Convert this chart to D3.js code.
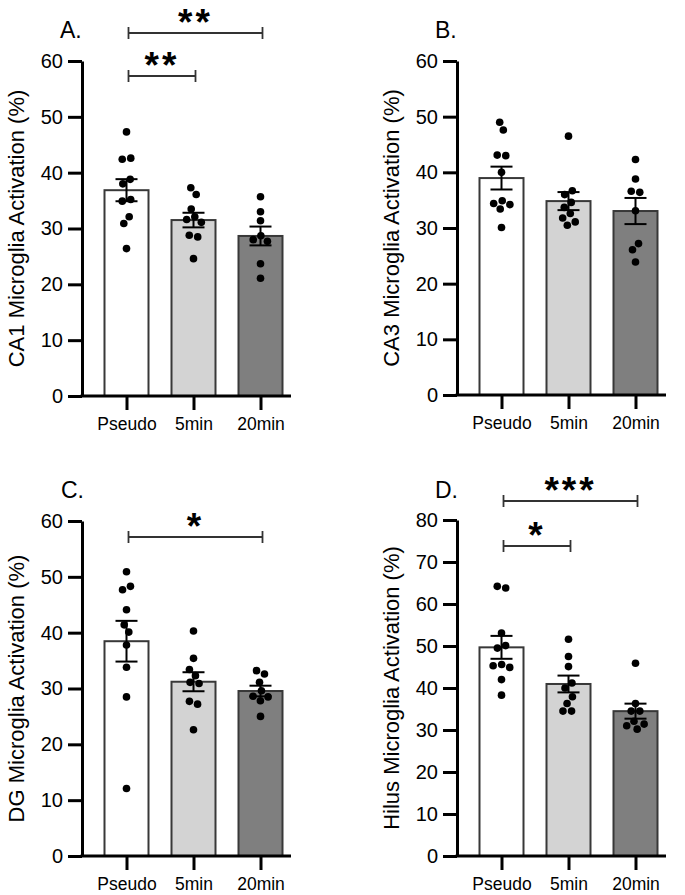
<!DOCTYPE html>
<html><head><meta charset="utf-8">
<script src="https://cdn.jsdelivr.net/npm/d3@7"></script>
<style>body{margin:0;background:#fff} text{font-family:Arial,"Liberation Sans",sans-serif;fill:#000}</style>
</head><body>
<svg id="chart" width="685" height="895"></svg>
<script>
// ---------- data ----------
const groups = ["Pseudo", "5min", "20min"];
const ticksCA = [0, 10, 20, 30, 40, 50, 60];
const ticksHilus = [0, 10, 20, 30, 40, 50, 60, 70, 80];

const ca1Pseudo = [47.3, 42.6, 42.4, 38.8, 38.0, 35.2, 34.9, 32.1, 30.9, 26.4];
const ca1Min5   = [37.3, 36.1, 33.5, 32.1, 31.6, 31.1, 28.8, 28.5, 24.6];
const ca1Min20  = [35.7, 33.0, 31.4, 28.7, 28.0, 27.7, 23.7, 21.1];

const ca3Pseudo = [49.0, 47.6, 43.1, 43.0, 40.0, 34.9, 34.4, 34.2, 33.4, 30.1];
const ca3Min5   = [46.5, 36.7, 36.0, 34.6, 33.7, 32.6, 31.8, 31.1, 30.5];
const ca3Min20  = [42.3, 38.8, 36.6, 36.4, 33.1, 27.2, 26.1, 23.9];

const dgPseudo = [50.9, 48.3, 47.7, 44.1, 41.4, 40.1, 37.8, 33.8, 28.5, 12.1];
const dgMin5   = [40.3, 35.4, 33.4, 32.3, 31.1, 30.9, 27.7, 27.2, 22.6];
const dgMin20  = [33.2, 32.6, 31.1, 29.6, 28.6, 28.5, 27.8, 25.0];

const hilusPseudo = [64.2, 63.8, 53.1, 50.1, 49.5, 45.6, 45.3, 44.9, 42.0, 38.3];
const hilusMin5   = [51.6, 47.5, 45.1, 41.2, 40.0, 37.9, 36.3, 34.5, 34.5];
const hilusMin20  = [45.9, 36.3, 34.5, 34.5, 32.1, 31.4, 31.0, 30.2];

const letters = ["A.", "B.", "C.", "D."];
const yTitles = ["CA1 Microglia Activation (%)", "CA3 Microglia Activation (%)",
                 "DG Microglia Activation (%)", "Hilus Microglia Activation (%)"];
const sigA = [{a: 0, b: 2, label: "**"}, {a: 0, b: 1, label: "**"}];
const sigB = [];
const sigC = [{a: 0, b: 2, label: "*"}];
const sigD = [{a: 0, b: 2, label: "***"}, {a: 0, b: 1, label: "*"}];

// ---------- layout ----------
const panels = [
  {x0: 82,  yTop: 61,  yBot: 396, ticks: ticksCA,    series: [ca1Pseudo, ca1Min5, ca1Min20],       sig: sigA, sigY: [-28, 15], lx: 60,  ly: 38,  tx: 24},
  {x0: 457, yTop: 61,  yBot: 395, ticks: ticksCA,    series: [ca3Pseudo, ca3Min5, ca3Min20],       sig: sigB, sigY: [],        lx: 435, ly: 38,  tx: 399},
  {x0: 82,  yTop: 521, yBot: 856, ticks: ticksCA,    series: [dgPseudo, dgMin5, dgMin20],          sig: sigC, sigY: [16],      lx: 61,  ly: 498, tx: 24},
  {x0: 457, yTop: 520, yBot: 856, ticks: ticksHilus, series: [hilusPseudo, hilusMin5, hilusMin20], sig: sigD, sigY: [-19, 26], lx: 435, ly: 498, tx: 399}
];
const fills = ["#ffffff", "#d3d3d3", "#7f7f7f"];
const barW = 44, axisLen = 209, dotR = 3.8;

const svg = d3.select("#chart");

function swarm(vals, y) {
  const nodes = vals.map((v, i) => ({v, fy: y(v), x: (i % 2 ? 1 : -1) * 0.05 * (i + 1)}));
  const sim = d3.forceSimulation(nodes)
    .force("x", d3.forceX(0).strength(0.06))
    .force("c", d3.forceCollide(4.3))
    .stop();
  for (let i = 0; i < 300; i++) sim.tick();
  return nodes;
}

panels.forEach((p, pi) => {
  const g = svg.append("g");
  const yMax = p.ticks[p.ticks.length - 1];
  const y = d3.scaleLinear().domain([0, yMax]).range([p.yBot, p.yTop]);
  const x = d3.scalePoint().domain(groups).range([p.x0 + 44.5, p.x0 + 178.5]);

  // bars
  p.series.forEach((vals, gi) => {
    const m = d3.mean(vals);
    const sem = d3.deviation(vals) / Math.sqrt(vals.length);
    const cx = x(groups[gi]);
    g.append("rect")
      .attr("x", cx - barW / 2).attr("y", y(m))
      .attr("width", barW).attr("height", y(0) - y(m))
      .attr("fill", fills[gi]).attr("stroke", "#383838").attr("stroke-width", 2);
    // error bar
    const eg = g.append("g").attr("stroke", "#000").attr("stroke-width", 2);
    eg.append("line").attr("x1", cx).attr("x2", cx).attr("y1", y(m + sem)).attr("y2", y(m - sem));
    eg.append("line").attr("x1", cx - 11).attr("x2", cx + 11).attr("y1", y(m + sem)).attr("y2", y(m + sem));
    eg.append("line").attr("x1", cx - 11).attr("x2", cx + 11).attr("y1", y(m - sem)).attr("y2", y(m - sem));
    // dots
    swarm(vals, y).forEach(n => {
      g.append("circle").attr("cx", cx + n.x).attr("cy", n.fy).attr("r", dotR).attr("fill", "#000");
    });
  });

  // y axis
  const ya = g.append("g").attr("transform", `translate(${p.x0},0)`)
    .call(d3.axisLeft(y).tickValues(p.ticks).tickSize(14).tickSizeOuter(0).tickPadding(5));
  ya.select(".domain").attr("stroke", "#000").attr("stroke-width", 3);
  ya.selectAll(".tick line").attr("stroke", "#000").attr("stroke-width", 3);
  ya.selectAll(".tick text").style("font-size", "20px").attr("fill", "#000");

  // x axis
  const xa = g.append("g").attr("transform", `translate(0,${p.yBot})`)
    .call(d3.axisBottom(x).tickSize(14).tickSizeOuter(0).tickPadding(8));
  xa.select(".domain").remove();
  xa.selectAll(".tick line").attr("stroke", "#000").attr("stroke-width", 3);
  xa.selectAll(".tick text").style("font-size", "17.5px").attr("fill", "#000");
  g.append("line").attr("x1", p.x0 - 1.5).attr("x2", p.x0 + axisLen)
    .attr("y1", p.yBot).attr("y2", p.yBot).attr("stroke", "#000").attr("stroke-width", 3);

  // panel letter
  g.append("text").attr("x", p.lx).attr("y", p.ly).text(letters[pi]).style("font-size", "23px");

  // y title
  g.append("text")
    .attr("transform", `translate(${p.tx},${(p.yTop + p.yBot) / 2}) rotate(-90)`)
    .attr("text-anchor", "middle").style("font-size", "22px").text(yTitles[pi]);

  // significance
  p.sig.forEach((s, si) => {
    const by = p.yTop + p.sigY[si];
    const xa1 = x(groups[s.a]) + 2, xb1 = x(groups[s.b]) + 2;
    const sg = g.append("g").attr("stroke", "#333").attr("stroke-width", 1.8);
    sg.append("line").attr("x1", xa1).attr("x2", xb1).attr("y1", by).attr("y2", by);
    sg.append("line").attr("x1", xa1).attr("x2", xa1).attr("y1", by - 6).attr("y2", by + 6);
    sg.append("line").attr("x1", xb1).attr("x2", xb1).attr("y1", by - 6).attr("y2", by + 6);
    g.append("text").attr("x", (xa1 + xb1) / 2).attr("y", by + 1.5)
      .attr("text-anchor", "middle").style("font-size", "37px").style("font-weight", "bold")
      .style("letter-spacing", "3px").text(s.label);
  });
});
</script>
</body></html>
